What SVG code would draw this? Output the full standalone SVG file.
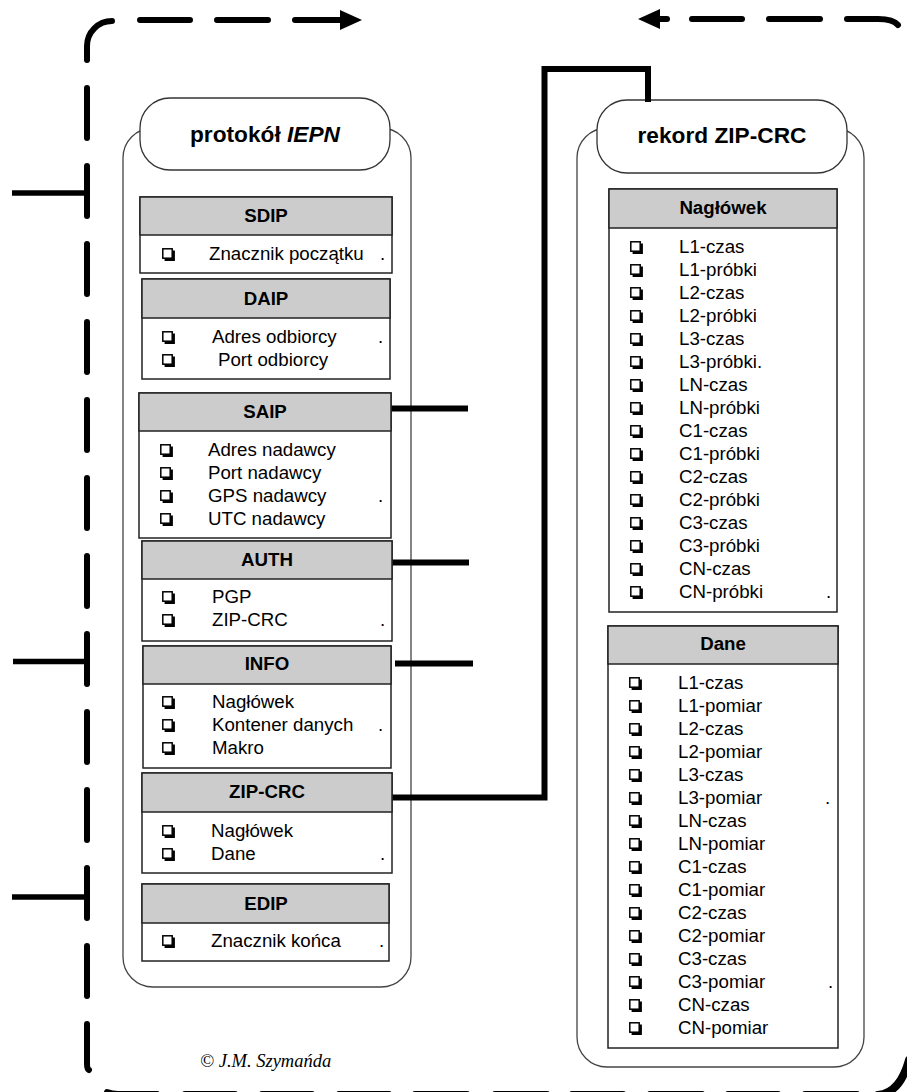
<svg xmlns="http://www.w3.org/2000/svg" xmlns:xlink="http://www.w3.org/1999/xlink" width="907" height="1092" viewBox="0 0 907 1092">
<style>
.cont{fill:#fff;stroke:#444;stroke-width:1.3}
.pill{fill:#fff;stroke:#333;stroke-width:1.3}
.box{fill:#fff;stroke:#222;stroke-width:1.5}
.hdr{fill:#ccc;stroke:#222;stroke-width:1.5}
.t{font-family:"Liberation Sans",Arial,sans-serif;font-size:18.7px;fill:#000}
.tb{font-family:"Liberation Sans",Arial,sans-serif;font-size:18.7px;font-weight:bold;text-anchor:middle;fill:#000}
.big{font-family:"Liberation Sans",Arial,sans-serif;font-size:22.7px;font-weight:bold;text-anchor:middle;fill:#000}
.dash{stroke:#000;stroke-width:6;stroke-linecap:round;fill:none}
.tick{stroke:#000;stroke-width:5.5;fill:none}
.conn{stroke:#000;stroke-width:6;fill:none;stroke-linejoin:miter}
.copy{font-family:"Liberation Serif","Times New Roman",serif;font-style:italic;font-size:18.5px;fill:#000}
</style>
<defs>
<symbol id="cb" viewBox="0 0 13 13" width="13" height="13">
<rect x="0.8" y="0.8" width="9.4" height="9.4" fill="#fff" stroke="#000" stroke-width="1.5"/>
<polyline points="2.6,11.6 11.6,11.6 11.6,2.6" fill="none" stroke="#000" stroke-width="2.6"/>
</symbol>
</defs>
<rect width="907" height="1092" fill="#fff"/>

<g id="frame">
<path class="dash" d="M87,60 V46 A25,25 0 0 1 112,21"/>
<line class="dash" x1="140" y1="20" x2="190" y2="20"/>
<line class="dash" x1="217" y1="20" x2="268" y2="20"/>
<line class="dash" x1="295" y1="20" x2="345" y2="20"/>
<polygon points="340,10 362,20 340,30" fill="#000"/>
<polygon points="660,9 638,19 660,29" fill="#000"/>
<line class="dash" x1="652" y1="19" x2="667" y2="19"/>
<line class="dash" x1="692" y1="19" x2="742" y2="19"/>
<line class="dash" x1="769" y1="19" x2="820" y2="19"/>
<path class="dash" d="M847,19 H878 Q893,19 898,25"/>
<line class="dash" x1="87" y1="88" x2="87" y2="138"/>
<line class="dash" x1="87" y1="166" x2="87" y2="216"/>
<line class="dash" x1="87" y1="244" x2="87" y2="294"/>
<line class="dash" x1="87" y1="322" x2="87" y2="372"/>
<line class="dash" x1="87" y1="400" x2="87" y2="450"/>
<line class="dash" x1="87" y1="478" x2="87" y2="528"/>
<line class="dash" x1="87" y1="556" x2="87" y2="606"/>
<line class="dash" x1="87" y1="634" x2="87" y2="684"/>
<line class="dash" x1="87" y1="712" x2="87" y2="762"/>
<line class="dash" x1="87" y1="790" x2="87" y2="840"/>
<line class="dash" x1="87" y1="868" x2="87" y2="918"/>
<line class="dash" x1="87" y1="946" x2="87" y2="996"/>
<path class="dash" d="M87,1024 V1064 Q87,1069 89,1070"/>
<path class="dash" d="M107,1092 Q112,1094 118,1094 H157"/>
<line class="dash" x1="185" y1="1094" x2="235" y2="1094"/>
<line class="dash" x1="262" y1="1094" x2="312" y2="1094"/>
<line class="dash" x1="339" y1="1094" x2="389" y2="1094"/>
<line class="dash" x1="415" y1="1094" x2="467" y2="1094"/>
<line class="dash" x1="495" y1="1094" x2="547" y2="1094"/>
<line class="dash" x1="572" y1="1094" x2="623" y2="1094"/>
<line class="dash" x1="650" y1="1094" x2="702" y2="1094"/>
<line class="dash" x1="728" y1="1094" x2="778" y2="1094"/>
<line class="dash" x1="805" y1="1094" x2="857" y2="1094"/>
<path d="M878,1095 Q900,1093 909,1060" stroke="#000" stroke-width="8" fill="none" stroke-linecap="round"/>
<line class="tick" x1="12" y1="193" x2="87" y2="193"/>
<line class="tick" x1="13" y1="661.5" x2="87" y2="661.5"/>
<line class="tick" x1="12" y1="897" x2="87" y2="897"/>
</g>

<g id="protokol-IEPN">
<rect class="cont" x="123" y="128" width="288" height="859" rx="30"/>
<rect class="pill" x="140" y="98" width="250" height="72" rx="30"/>
<text class="big" x="265" y="142">protokół <tspan font-style="italic">IEPN</tspan></text>
</g>

<g id="rekord-ZIP-CRC">
<rect class="cont" x="577" y="128" width="287" height="939" rx="30"/>
<rect class="pill" x="597" y="100" width="250" height="73" rx="30"/>
<text class="big" x="722" y="143">rekord ZIP-CRC</text>
</g>

<g id="connectors">
<path class="conn" d="M391,408.5 H468"/>
<path class="conn" d="M392,562.5 H469"/>
<path class="conn" d="M395,663.5 H473"/>
<path class="conn" d="M392,797.5 H544.5 V69 H648 V102"/>
</g>

<g id="SDIP">
<rect class="box" x="140" y="197" width="252" height="76"/>
<rect class="hdr" x="140" y="197" width="252" height="38"/>
<text class="tb" x="266" y="222">SDIP</text>
<use href="#cb" xlink:href="#cb" x="162" y="248"/>
<text class="t" x="209" y="260">Znacznik początku<tspan x="380">.</tspan></text>
</g>

<g id="DAIP">
<rect class="box" x="142" y="279" width="248" height="100"/>
<rect class="hdr" x="142" y="279" width="248" height="39"/>
<text class="tb" x="266" y="305">DAIP</text>
<use href="#cb" xlink:href="#cb" x="162" y="331"/>
<text class="t" x="212" y="343">Adres odbiorcy<tspan x="378">.</tspan></text>
<use href="#cb" xlink:href="#cb" x="162" y="354"/>
<text class="t" x="218" y="366">Port odbiorcy</text>
</g>

<g id="SAIP">
<rect class="box" x="139" y="393" width="252" height="145"/>
<rect class="hdr" x="139" y="393" width="252" height="38"/>
<text class="tb" x="265" y="418">SAIP</text>
<use href="#cb" xlink:href="#cb" x="160" y="444"/>
<text class="t" x="208" y="456">Adres nadawcy</text>
<use href="#cb" xlink:href="#cb" x="160" y="467"/>
<text class="t" x="208" y="479">Port nadawcy</text>
<use href="#cb" xlink:href="#cb" x="160" y="490"/>
<text class="t" x="208" y="502">GPS nadawcy<tspan x="378">.</tspan></text>
<use href="#cb" xlink:href="#cb" x="160" y="513"/>
<text class="t" x="208" y="525">UTC nadawcy</text>
</g>

<g id="AUTH">
<rect class="box" x="142" y="541" width="250" height="100"/>
<rect class="hdr" x="142" y="541" width="250" height="38"/>
<text class="tb" x="267" y="566">AUTH</text>
<use href="#cb" xlink:href="#cb" x="162" y="591"/>
<text class="t" x="212" y="603">PGP</text>
<use href="#cb" xlink:href="#cb" x="162" y="614"/>
<text class="t" x="212" y="626">ZIP-CRC<tspan x="380">.</tspan></text>
</g>

<g id="INFO">
<rect class="box" x="143" y="646" width="248" height="122"/>
<rect class="hdr" x="143" y="646" width="248" height="38"/>
<text class="tb" x="267" y="670">INFO</text>
<use href="#cb" xlink:href="#cb" x="162" y="696"/>
<text class="t" x="212" y="708">Nagłówek</text>
<use href="#cb" xlink:href="#cb" x="162" y="719"/>
<text class="t" x="212" y="731">Kontener danych<tspan x="378">.</tspan></text>
<use href="#cb" xlink:href="#cb" x="162" y="742"/>
<text class="t" x="212" y="754">Makro</text>
</g>

<g id="ZIP-CRC">
<rect class="box" x="142" y="773" width="250" height="100"/>
<rect class="hdr" x="142" y="773" width="250" height="39"/>
<text class="tb" x="267" y="798">ZIP-CRC</text>
<use href="#cb" xlink:href="#cb" x="162" y="825"/>
<text class="t" x="211" y="837">Nagłówek</text>
<use href="#cb" xlink:href="#cb" x="162" y="848"/>
<text class="t" x="211" y="860">Dane<tspan x="380">.</tspan></text>
</g>

<g id="EDIP">
<rect class="box" x="142" y="884" width="247" height="77"/>
<rect class="hdr" x="142" y="884" width="247" height="39"/>
<text class="tb" x="266" y="910">EDIP</text>
<use href="#cb" xlink:href="#cb" x="162" y="935"/>
<text class="t" x="211" y="947">Znacznik końca<tspan x="379">.</tspan></text>
</g>

<g id="Naglowek">
<rect class="box" x="609" y="189" width="228" height="423"/>
<rect class="hdr" x="609" y="189" width="228" height="39"/>
<text class="tb" x="723" y="214">Nagłówek</text>
<use href="#cb" xlink:href="#cb" x="630" y="241"/><text class="t" x="679" y="253">L1-czas</text>
<use href="#cb" xlink:href="#cb" x="630" y="264"/><text class="t" x="679" y="276">L1-próbki</text>
<use href="#cb" xlink:href="#cb" x="630" y="287"/><text class="t" x="679" y="299">L2-czas</text>
<use href="#cb" xlink:href="#cb" x="630" y="310"/><text class="t" x="679" y="322">L2-próbki</text>
<use href="#cb" xlink:href="#cb" x="630" y="333"/><text class="t" x="679" y="345">L3-czas</text>
<use href="#cb" xlink:href="#cb" x="630" y="356"/><text class="t" x="679" y="368">L3-próbki.</text>
<use href="#cb" xlink:href="#cb" x="630" y="379"/><text class="t" x="679" y="391">LN-czas</text>
<use href="#cb" xlink:href="#cb" x="630" y="402"/><text class="t" x="679" y="414">LN-próbki</text>
<use href="#cb" xlink:href="#cb" x="630" y="425"/><text class="t" x="679" y="437">C1-czas</text>
<use href="#cb" xlink:href="#cb" x="630" y="448"/><text class="t" x="679" y="460">C1-próbki</text>
<use href="#cb" xlink:href="#cb" x="630" y="471"/><text class="t" x="679" y="483">C2-czas</text>
<use href="#cb" xlink:href="#cb" x="630" y="494"/><text class="t" x="679" y="506">C2-próbki</text>
<use href="#cb" xlink:href="#cb" x="630" y="517"/><text class="t" x="679" y="529">C3-czas</text>
<use href="#cb" xlink:href="#cb" x="630" y="540"/><text class="t" x="679" y="552">C3-próbki</text>
<use href="#cb" xlink:href="#cb" x="630" y="563"/><text class="t" x="679" y="575">CN-czas</text>
<use href="#cb" xlink:href="#cb" x="630" y="586"/><text class="t" x="679" y="598">CN-próbki<tspan x="826">.</tspan></text>
</g>

<g id="Dane">
<rect class="box" x="608" y="626" width="230" height="422"/>
<rect class="hdr" x="608" y="626" width="230" height="38"/>
<text class="tb" x="723" y="650">Dane</text>
<use href="#cb" xlink:href="#cb" x="629" y="677"/><text class="t" x="678" y="689">L1-czas</text>
<use href="#cb" xlink:href="#cb" x="629" y="700"/><text class="t" x="678" y="712">L1-pomiar</text>
<use href="#cb" xlink:href="#cb" x="629" y="723"/><text class="t" x="678" y="735">L2-czas</text>
<use href="#cb" xlink:href="#cb" x="629" y="746"/><text class="t" x="678" y="758">L2-pomiar</text>
<use href="#cb" xlink:href="#cb" x="629" y="769"/><text class="t" x="678" y="781">L3-czas</text>
<use href="#cb" xlink:href="#cb" x="629" y="792"/><text class="t" x="678" y="804">L3-pomiar<tspan x="825">.</tspan></text>
<use href="#cb" xlink:href="#cb" x="629" y="815"/><text class="t" x="678" y="827">LN-czas</text>
<use href="#cb" xlink:href="#cb" x="629" y="838"/><text class="t" x="678" y="850">LN-pomiar</text>
<use href="#cb" xlink:href="#cb" x="629" y="861"/><text class="t" x="678" y="873">C1-czas</text>
<use href="#cb" xlink:href="#cb" x="629" y="884"/><text class="t" x="678" y="896">C1-pomiar</text>
<use href="#cb" xlink:href="#cb" x="629" y="907"/><text class="t" x="678" y="919">C2-czas</text>
<use href="#cb" xlink:href="#cb" x="629" y="930"/><text class="t" x="678" y="942">C2-pomiar</text>
<use href="#cb" xlink:href="#cb" x="629" y="953"/><text class="t" x="678" y="965">C3-czas</text>
<use href="#cb" xlink:href="#cb" x="629" y="976"/><text class="t" x="678" y="988">C3-pomiar<tspan x="828">.</tspan></text>
<use href="#cb" xlink:href="#cb" x="629" y="999"/><text class="t" x="678" y="1011">CN-czas</text>
<use href="#cb" xlink:href="#cb" x="629" y="1022"/><text class="t" x="678" y="1034">CN-pomiar</text>
</g>

<text class="copy" x="200" y="1067">© J.M. Szymańda</text>
</svg>
